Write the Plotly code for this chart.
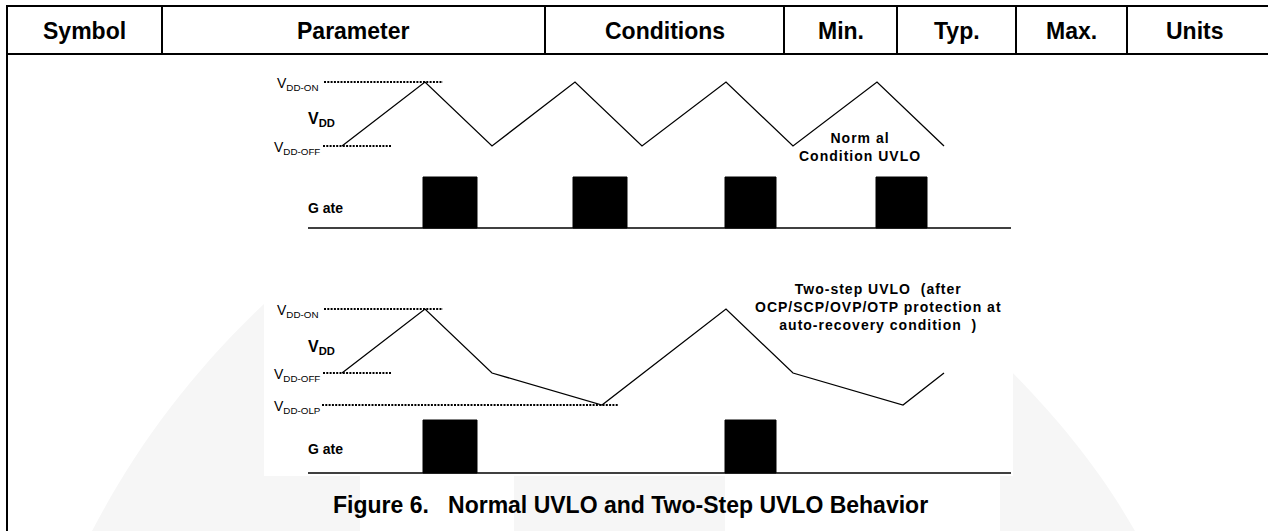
import plotly.graph_objects as go

W, H = 1268, 531
FONT = "Arial, Liberation Sans, sans-serif"

# ---- table header ----
header_labels = ["Symbol", "Parameter", "Conditions", "Min.", "Typ.", "Max.", "Units"]
col_edges = [7, 162, 545, 784, 897, 1016, 1127, 1262]
table_top, header_bottom = 6, 54

# ---- normal UVLO (top) ----
top_levels = {"ON": 82, "OFF": 146}
top_t = [342, 425, 492, 575, 642, 726, 793, 877, 944]
top_state = ["OFF", "ON", "OFF", "ON", "OFF", "ON", "OFF", "ON", "OFF"]
top_gate_start = [423, 573, 725, 876]
top_gate_end = [477, 627, 776, 927]
top_gate_low, top_gate_high = 228, 177

# ---- two-step UVLO (bottom) ----
bot_levels = {"ON": 309, "OFF": 373, "OLP": 405}
bot_t = [342, 425, 492, 602, 726, 793, 903, 944]
bot_state = ["OFF", "ON", "OFF", "OLP", "ON", "OFF", "OLP", "OFF"]
bot_gate_start = [423, 725]
bot_gate_end = [477, 776]
bot_gate_low, bot_gate_high = 473, 420

gate_line_x = [308, 1011]

# dotted reference levels: (panel, level, x0, x1)
ref_lines = [
    ("top", "ON", 324, 443), ("top", "OFF", 323, 391),
    ("bot", "ON", 324, 443), ("bot", "OFF", 323, 391), ("bot", "OLP", 322, 618),
]

normal_text = ["Norm al", "Condition UVLO"]
twostep_text = ["Two-step UVLO  (after", "OCP/SCP/OVP/OTP protection at", "auto-recovery condition  )"]
caption = "Figure 6.   Normal UVLO and Two-Step UVLO Behavior"

fig = go.Figure()

def lv(panel, name):
    return (top_levels if panel == "top" else bot_levels)[name]

# dotted level lines
for panel, name, x0, x1 in ref_lines:
    y = lv(panel, name)
    fig.add_trace(go.Scatter(x=[x0, x1], y=[y, y], mode="lines",
                             line=dict(color="black", width=2, dash="2px,1.3px"),
                             hoverinfo="skip", showlegend=False))

# VDD waveforms
fig.add_trace(go.Scatter(x=top_t, y=[top_levels[s] for s in top_state], mode="lines",
                         line=dict(color="black", width=1.3), hoverinfo="skip", showlegend=False))
fig.add_trace(go.Scatter(x=bot_t, y=[bot_levels[s] for s in bot_state], mode="lines",
                         line=dict(color="black", width=1.3), hoverinfo="skip", showlegend=False))

# gate pulses
def pulses(starts, ends, lo, hi):
    xs, ys = [], []
    for a, b in zip(starts, ends):
        xs += [a, a, b, b, a, None]
        ys += [lo, hi, hi, lo, lo, None]
    return xs, ys

for st, en, lo, hi in [(top_gate_start, top_gate_end, top_gate_low, top_gate_high),
                       (bot_gate_start, bot_gate_end, bot_gate_low, bot_gate_high)]:
    xs, ys = pulses(st, en, lo, hi)
    fig.add_trace(go.Scatter(x=xs, y=ys, mode="lines", fill="toself", fillcolor="black",
                             line=dict(color="black", width=1), hoverinfo="skip", showlegend=False))
    fig.add_trace(go.Scatter(x=gate_line_x, y=[lo, lo], mode="lines",
                             line=dict(color="black", width=1.6), hoverinfo="skip", showlegend=False))

shapes = []
WM = "#f6f6f6"
# faint watermark shapes
shapes.append(dict(type="path", xref="x", yref="y", layer="below", line=dict(width=0), fillcolor=WM,
                   path="M 92,531 C 140,440 200,360 290,280 L 290,476 L 360,476 L 360,531 Z"))
shapes.append(dict(type="rect", xref="x", yref="y", layer="below", line=dict(width=0), fillcolor=WM,
                   x0=514, x1=725, y0=476, y1=531))
shapes.append(dict(type="path", xref="x", yref="y", layer="below", line=dict(width=0), fillcolor=WM,
                   path="M 1000,360 C 1060,420 1100,470 1135,531 L 1000,531 Z"))
# white figure area
shapes.append(dict(type="rect", xref="x", yref="y", layer="below", line=dict(width=0), fillcolor="white",
                   x0=264, x1=1013, y0=58, y1=476))

# table lines
for y in [table_top, header_bottom]:
    shapes.append(dict(type="line", xref="x", yref="y", x0=col_edges[0] - 1, x1=W, y0=y, y1=y,
                       line=dict(color="black", width=2)))
shapes.append(dict(type="line", xref="x", yref="y", x0=col_edges[0], x1=col_edges[0],
                   y0=table_top, y1=H, line=dict(color="black", width=2)))
for x in col_edges[1:-1]:
    shapes.append(dict(type="line", xref="x", yref="y", x0=x, x1=x, y0=table_top, y1=header_bottom,
                       line=dict(color="black", width=2)))

ann = []
for i, lab in enumerate(header_labels):
    ann.append(dict(x=(col_edges[i] + col_edges[i + 1]) / 2, y=31, text=f"<b>{lab}</b>",
                    showarrow=False, xanchor="center", yanchor="middle",
                    font=dict(family=FONT, size=23, color="black")))

def vlabel(x, y, sub):
    ann.append(dict(x=x, y=y, text=f"V<sub>{sub}</sub>", showarrow=False, xanchor="left",
                    yanchor="middle", font=dict(family=FONT, size=14, color="black")))

vlabel(275, top_levels["ON"] + 2, "DD-ON")
vlabel(272, top_levels["OFF"] + 2, "DD-OFF")
vlabel(275, bot_levels["ON"] + 2, "DD-ON")
vlabel(272, bot_levels["OFF"] + 2, "DD-OFF")
vlabel(272, bot_levels["OLP"] + 2, "DD-OLP")

for y in [119, 347]:
    ann.append(dict(x=306, y=y, text="<b>V<sub>DD</sub></b>", showarrow=False, xanchor="left",
                    yanchor="middle", font=dict(family=FONT, size=16, color="black")))
for y in [208, 449]:
    ann.append(dict(x=306, y=y, text="<b>G ate</b>", showarrow=False, xanchor="left",
                    yanchor="middle", font=dict(family=FONT, size=14, color="black")))

def spaced(lines):
    return "<br>".join(f'<b><span style="letter-spacing:1px">{t}</span></b>' for t in lines)

ann.append(dict(x=860, y=147, text=spaced(normal_text), showarrow=False,
                xanchor="center", yanchor="middle", align="center",
                font=dict(family=FONT, size=14, color="black")))
ann.append(dict(x=878, y=307, text=spaced(twostep_text),
                showarrow=False, xanchor="center", yanchor="middle", align="center",
                font=dict(family=FONT, size=14, color="black")))

ann.append(dict(x=630, y=505, text=f"<b>{caption}</b>",
                showarrow=False, xanchor="center", yanchor="middle",
                font=dict(family=FONT, size=23, color="black")))

fig.update_layout(
    width=W, height=H, autosize=False,
    margin=dict(l=0, r=0, t=0, b=0, pad=0),
    paper_bgcolor="white", plot_bgcolor="rgba(0,0,0,0)",
    xaxis=dict(range=[0, W], visible=False, fixedrange=True),
    yaxis=dict(range=[H, 0], visible=False, fixedrange=True),
    shapes=shapes, annotations=ann, showlegend=False,
)

fig.write_html("out.html", config={"displayModeBar": False},
               post_script="document.body.style.margin='0';document.body.style.overflow='hidden';")
